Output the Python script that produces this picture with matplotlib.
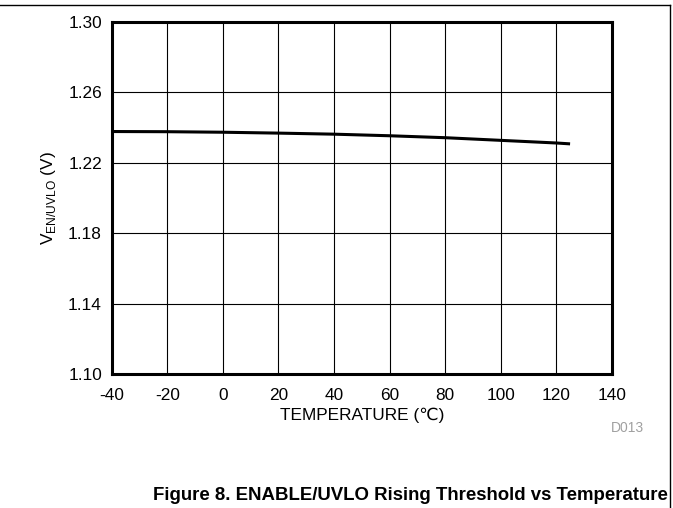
import matplotlib
matplotlib.use("Agg")
import matplotlib.pyplot as plt
from matplotlib.lines import Line2D

plt.rcParams['font.family'] = ['Liberation Sans', 'DejaVu Sans']
plt.rcParams['mathtext.fontset'] = 'custom'
plt.rcParams['mathtext.rm'] = 'Liberation Sans'

temperature = [-40, -20, 0, 20, 40, 60, 80, 100, 120, 125]
v_en_uvlo = [1.2377, 1.2376, 1.2373, 1.2368, 1.2362, 1.2353, 1.2342, 1.2327, 1.2312, 1.2307]
x_ticks = [-40, -20, 0, 20, 40, 60, 80, 100, 120, 140]
y_ticks = [1.10, 1.14, 1.18, 1.22, 1.26, 1.30]

fig = plt.figure(figsize=(6.73, 5.08), dpi=100)
ax = fig.add_axes([0.166, 0.2632, 0.909 - 0.166, 0.9573 - 0.2632])

ax.plot(temperature, v_en_uvlo, color='black', linewidth=2.2, solid_capstyle='butt')
ax.set_xlim(-40, 140)
ax.set_ylim(1.10, 1.30)
ax.set_xticks(x_ticks)
ax.set_yticks(y_ticks)
ax.set_xticklabels([str(t) for t in x_ticks])
ax.set_yticklabels([f"{v:.2f}" for v in y_ticks])
ax.grid(True, color='black', linewidth=0.8)
ax.tick_params(length=0, labelsize=12.4)
ax.tick_params(axis='x', pad=10)
ax.tick_params(axis='y', pad=7)
for s in ax.spines.values():
    s.set_linewidth(2.2)
    s.set_color('black')

ax.set_xlabel('TEMPERATURE (\u2103)', fontsize=12.4, labelpad=3)
ax.set_ylabel(r'V$_{\mathregular{EN/UVLO}}$ (V)', fontsize=12.4, labelpad=7)

fig.text(627 / 673, 1 - 428 / 508, 'D013', fontsize=10, color='#a0a0a0', ha='center', va='center')
fig.text(668 / 673, 1 - 496 / 508, 'Figure 8. ENABLE/UVLO Rising Threshold vs Temperature',
         fontsize=13.4, fontweight='bold', ha='right', va='center')

fig.add_artist(Line2D([0, 670 / 673], [1 - 5 / 508, 1 - 5 / 508], transform=fig.transFigure,
                      color='black', linewidth=1.0))
fig.add_artist(Line2D([670 / 673, 670 / 673], [1 - 5 / 508, 0], transform=fig.transFigure,
                      color='black', linewidth=1.0))

fig.savefig('out.png', dpi=100)
